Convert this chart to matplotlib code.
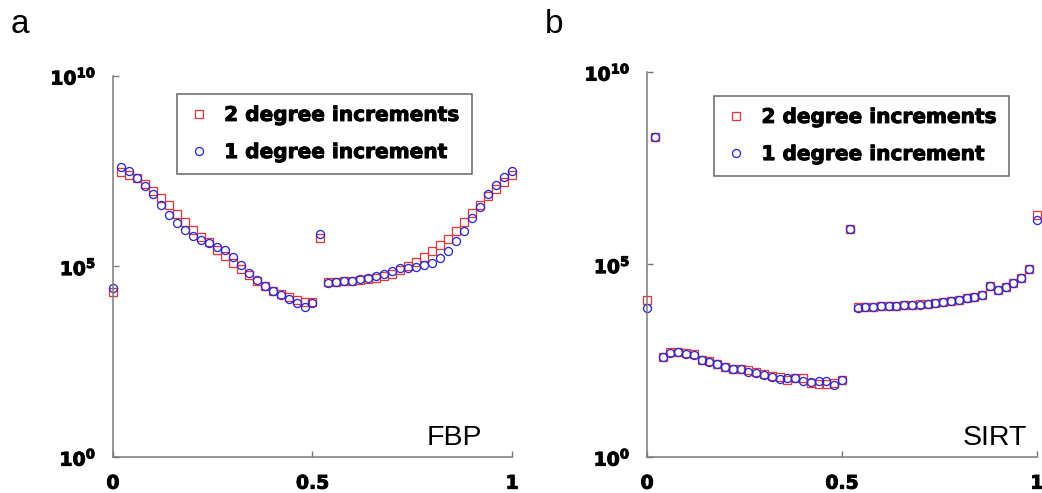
#!/usr/bin/env python3
# -*- coding: utf-8 -*-
#
# Error versus normalised position for FBP and SIRT reconstructions,
# 2 degree and 1 degree tilt increments.

import numpy as np
import matplotlib
matplotlib.use("Agg")
import matplotlib.pyplot as plt
import matplotlib.patheffects as pe

plt.rcParams['mathtext.fontset'] = 'dejavusans'

# Normalised position, 51 samples.
x_pos = np.round(np.arange(51) * 0.02, 2)

# Values as exponents of ten.
fbp_2deg_exp = [4.33,
                7.49, 7.40, 7.31, 7.17, 6.98, 6.80, 6.60, 6.38, 6.17, 5.96,
                5.78, 5.63, 5.44, 5.28, 5.10, 4.93, 4.77, 4.62, 4.48, 4.36,
                4.27, 4.20, 4.13, 4.07, 4.06,
                5.75,
                4.58, 4.60, 4.62, 4.63, 4.65, 4.67, 4.70, 4.76, 4.81, 4.90,
                5.00, 5.12, 5.26, 5.41, 5.57, 5.73, 5.94, 6.16, 6.40, 6.62,
                6.84, 7.04, 7.22, 7.40]
fbp_1deg_exp = [4.43,
                7.60, 7.50, 7.32, 7.12, 6.89, 6.62, 6.36, 6.14, 5.95, 5.79,
                5.70, 5.61, 5.52, 5.42, 5.24, 5.03, 4.83, 4.65, 4.48, 4.35,
                4.25, 4.14, 4.04, 3.93, 4.03,
                5.84,
                4.56, 4.58, 4.61, 4.63, 4.66, 4.69, 4.74, 4.80, 4.89, 4.95,
                4.97, 4.99, 5.04, 5.10, 5.22, 5.41, 5.66, 5.94, 6.26, 6.57,
                6.89, 7.14, 7.34, 7.51]
sirt_2deg_exp = [4.07,
                 8.32,
                 2.60, 2.73, 2.74, 2.71, 2.67, 2.53, 2.49, 2.42, 2.35, 2.29,
                 2.28, 2.25, 2.20, 2.15, 2.10, 2.08, 2.01, 2.04, 2.06, 1.92,
                 1.90, 1.90, 1.92, 1.99,
                 5.91,
                 3.89, 3.90, 3.90, 3.91, 3.92, 3.92, 3.94, 3.95, 3.97, 3.98,
                 4.01, 4.03, 4.05, 4.08, 4.12, 4.15, 4.21, 4.44, 4.34, 4.41,
                 4.51, 4.64, 4.88,
                 6.28]
sirt_1deg_exp = [3.88,
                 8.32,
                 2.60, 2.71, 2.74, 2.68, 2.65, 2.53, 2.47, 2.41, 2.34, 2.28,
                 2.28, 2.22, 2.18, 2.13, 2.07, 2.02, 2.06, 2.04, 1.97, 1.95,
                 1.98, 1.97, 1.88, 2.00,
                 5.91,
                 3.88, 3.89, 3.89, 3.91, 3.91, 3.91, 3.94, 3.94, 3.96, 3.98,
                 4.01, 4.02, 4.05, 4.08, 4.13, 4.15, 4.21, 4.44, 4.34, 4.41,
                 4.51, 4.64, 4.88,
                 6.16]

legend_labels = ["2 degree increments", "1 degree increment"]
x_ticks = [0, 0.5, 1]
x_tick_labels = ["0", "0.5", "1"]
y_ticks = [1e0, 1e5, 1e10]
y_tick_labels = [r"$\mathbf{10^{0}}$", r"$\mathbf{10^{5}}$",
                 r"$\mathbf{10^{10}}$"]

RED = '#e0393e'
BLUE = '#2b2bd6'
AXIS_GREY = '#7a7a7a'

# Slight stroke to get the heavy bold look of the original.
HEAVY = [pe.withStroke(linewidth=0.7, foreground='black')]


def plot_panel(ax, exp_2deg, exp_1deg, method, legend_anchor, method_x):
    """ Plots both increments on a log axis and styles the panel.

    Arguments:
    ax -- axes to draw on.
    exp_2deg -- list, exponents for the 2 degree increments.
    exp_1deg -- list, exponents for the 1 degree increment.
    method -- str, name written in the lower right corner.
    legend_anchor -- tuple, upper left corner of the legend (axes coords).
    method_x -- float, right edge of the method name (axes coords).

    """
    h1, = ax.plot(x_pos, 10.0 ** np.array(exp_2deg), ls='none', marker='s',
                  ms=6.2, mfc='none', mec=RED, mew=0.95, clip_on=False)
    h2, = ax.plot(x_pos, 10.0 ** np.array(exp_1deg), ls='none', marker='o',
                  ms=5.8, mfc='none', mec=BLUE, mew=0.95, clip_on=False)

    ax.set_yscale('log')
    ax.set_xlim(0, 1)
    ax.set_ylim(1, 1e10)

    ax.set_xticks(x_ticks)
    ax.set_xticklabels(x_tick_labels, fontsize=13.5, fontweight='bold',
                       family='DejaVu Sans')
    ax.set_yticks(y_ticks)
    ax.set_yticklabels(y_tick_labels, fontsize=13.5)
    ax.yaxis.set_minor_locator(matplotlib.ticker.NullLocator())
    for lbl in ax.get_xticklabels() + ax.get_yticklabels():
        lbl.set_path_effects(HEAVY)

    ax.tick_params(axis='both', direction='in', length=4, width=1,
                   color=AXIS_GREY)
    ax.tick_params(axis='x', pad=12)
    ax.tick_params(axis='y', pad=12)

    for side in ['top', 'right']:
        ax.spines[side].set_visible(False)
    for side in ['left', 'bottom']:
        ax.spines[side].set_color(AXIS_GREY)
        ax.spines[side].set_linewidth(1.1)

    leg = ax.legend([h1, h2], legend_labels, loc='upper left',
                    bbox_to_anchor=legend_anchor, frameon=True,
                    fancybox=False, borderpad=0.6, labelspacing=0.9,
                    handlelength=1.0, handletextpad=0.75, borderaxespad=0,
                    prop={'family': 'DejaVu Sans', 'weight': 'bold',
                          'size': 14.5})
    leg.get_frame().set_edgecolor('#404040')
    leg.get_frame().set_linewidth(1.1)
    for txt in leg.get_texts():
        txt.set_path_effects(HEAVY)

    ax.text(method_x, 0.032, method, transform=ax.transAxes, ha='right',
            va='baseline', fontsize=20.5, family='Liberation Sans')


fig = plt.figure(figsize=(10.42, 4.93), dpi=100)
ax1 = fig.add_axes([0.1084, 0.073, 0.383, 0.773])
ax2 = fig.add_axes([0.621, 0.073, 0.374, 0.781])

plot_panel(ax1, fbp_2deg_exp, fbp_1deg_exp, 'FBP', (0.160, 0.953), 0.925)
plot_panel(ax2, sirt_2deg_exp, sirt_1deg_exp, 'SIRT', (0.172, 0.938), 0.974)

# Panel letters.
fig.text(11 / 1042, 1 - 33 / 493, 'a', fontsize=24, family='Liberation Sans',
         va='baseline')
fig.text(545 / 1042, 1 - 33 / 493, 'b', fontsize=24,
         family='Liberation Sans', va='baseline')

fig.savefig('out.png', dpi=100)
